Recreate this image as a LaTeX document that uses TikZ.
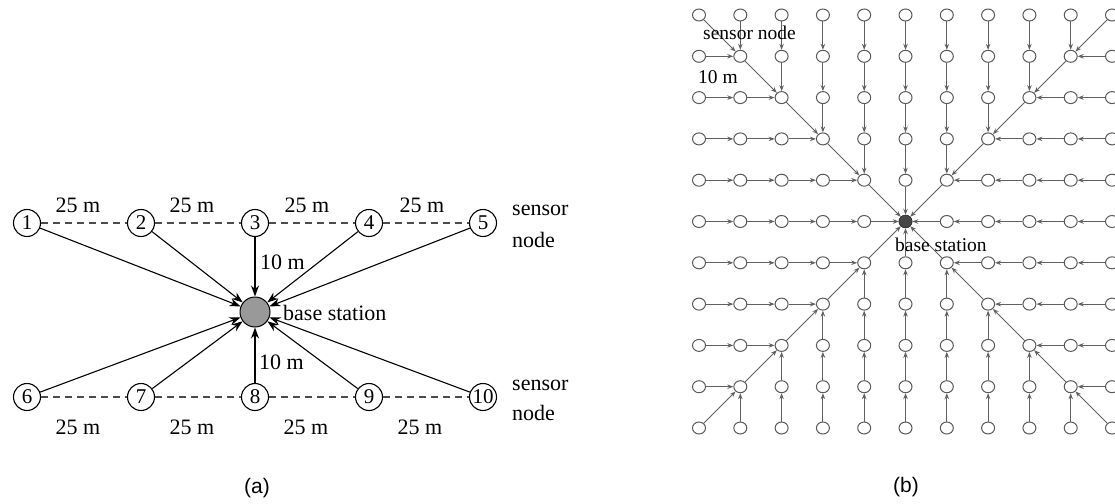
\documentclass[tikz,border=0pt]{standalone}
\usepackage{fontspec}
\setmainfont{Liberation Serif}
\newfontfamily\capfont{Liberation Sans}
\usetikzlibrary{arrows.meta,shapes.geometric}
\begin{document}
\begin{tikzpicture}[x=1pt,y=-1pt,
  snode/.style={circle,draw,line width=1.1pt,minimum size=27pt,inner sep=0pt,font=\fontsize{21}{21}\selectfont},
  bsa/.style={circle,draw,line width=1pt,fill=black!40,minimum size=30pt,inner sep=0pt},
  lbla/.style={inner sep=0pt,font=\fontsize{22}{22}\selectfont},
  lblb/.style={inner sep=0pt,font=\fontsize{19.5}{19.5}\selectfont},
  arra/.style={line width=1.1pt,-{Stealth[length=11pt,width=8pt]}},
  dashline/.style={draw=black!70,line width=1.1pt,dash pattern=on 7pt off 5pt},
  gnode/.style={ellipse,draw=black!65,line width=1pt,fill=white,minimum width=13pt,minimum height=12pt,inner sep=0pt},
  gbs/.style={circle,draw=black!85,fill=black!72,minimum size=13pt,inner sep=0pt},
  arrb/.style={draw=black!62,line width=1pt,-{Stealth[length=6pt,width=4.5pt]}},
  captxt/.style={inner sep=0pt,font=\capfont\fontsize{21}{21}\selectfont}
]
\useasboundingbox (0,0) rectangle (1115,503);

% ---------- panel (a) ----------
\foreach \k/\x in {1/27,2/141,3/255,4/369,5/483}
  \node[snode] (a\k) at (\x,223) {\k};
\foreach \k/\x in {6/27,7/141,8/255,9/369,10/483}
  \node[snode] (a\k) at (\x,397) {\k};
\node[bsa] (bs) at (255,312) {};
\foreach \p/\q in {1/2,2/3,3/4,4/5,6/7,7/8,8/9,9/10}
  \draw[dashline] (a\p) -- (a\q);
\foreach \k in {1,...,10}
  \draw[arra] (a\k) -- (bs);

\foreach \x [count=\n] in {78,192,307,422}
  \node[lbla] (dt\n) at (\x,205) {25 m};
\foreach \x [count=\n] in {78,192,306,420}
  \node[lbla] (db\n) at (\x,427) {25 m};
\node[lbla,anchor=west] (vt) at (260,262) {10 m};
\node[lbla,anchor=west] (vb) at (259,362) {10 m};
\node[lbla,anchor=west] (bslbl) at (283,313) {base station};
\node[lbla,anchor=west] (sa1) at (512,210) {sensor};
\node[lbla,anchor=west] (sa2) at (512,240) {node};
\node[lbla,anchor=west] (sb1) at (512,385) {sensor};
\node[lbla,anchor=west] (sb2) at (512,413) {node};
\node[captxt] (capa) at (257,488) {(a)};

% ---------- panel (b) ----------
\foreach \i in {0,...,10}
  \foreach \j in {0,...,10} {
    \pgfmathsetmacro\xx{699+41.3*\i}
    \pgfmathsetmacro\yy{15+41.3*\j}
    \node[gnode] (b\i-\j) at (\xx,\yy) {};
  }
\node[gbs] (b5-5) at (905.5,221.5) {};
\foreach \i in {0,...,10}
  \foreach \j in {0,...,10} {
    \pgfmathtruncatemacro\di{\i-5}
    \pgfmathtruncatemacro\dj{\j-5}
    \pgfmathtruncatemacro\adi{abs(\di)}
    \pgfmathtruncatemacro\adj{abs(\dj)}
    \pgfmathtruncatemacro\ti{(\adi>\adj-1) ? \i-sign(\di) : \i}
    \pgfmathtruncatemacro\tj{(\adj>\adi-1) ? \j-sign(\dj) : \j}
    \ifnum\numexpr\adi+\adj\relax>0
      \draw[arrb] (b\i-\j) -- (b\ti-\tj);
    \fi
  }
\node[lblb,anchor=west] (snl) at (703,33) {sensor node};
\node[lblb,anchor=west] (tml) at (698,77) {10 m};
\node[lblb,anchor=west] (bsl) at (895,245) {base station};
\node[captxt] (capb) at (906,487) {(b)};
\end{tikzpicture}
\end{document}
